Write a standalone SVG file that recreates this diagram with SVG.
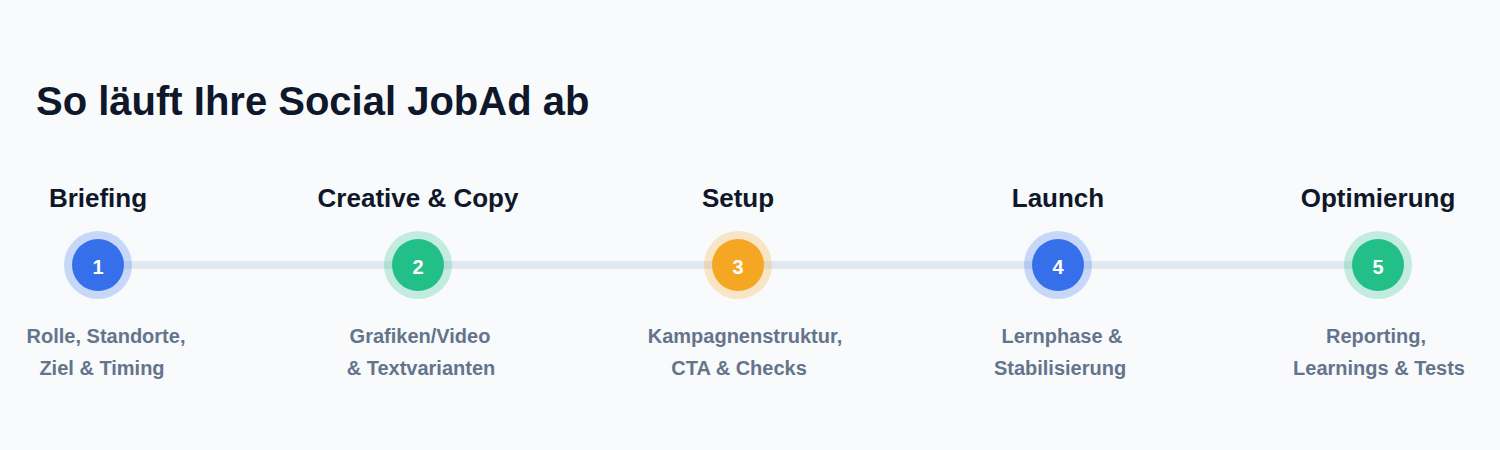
<svg xmlns="http://www.w3.org/2000/svg" width="1500" height="450" viewBox="0 0 1500 450">
  <style>
    .title { font-family: "Liberation Sans", Arial, sans-serif; font-weight: 700; font-size: 40px; fill: #0F172A; }
    .step { font-family: "Liberation Sans", Arial, sans-serif; font-weight: 700; font-size: 26px; fill: #0F172A; text-anchor: middle; }
    .desc { font-family: "Liberation Sans", Arial, sans-serif; font-weight: 700; font-size: 20px; fill: #64748B; text-anchor: middle; }
    .num { font-family: "Liberation Sans", Arial, sans-serif; font-weight: 700; font-size: 20px; fill: #FFFFFF; text-anchor: middle; }
    .blue { fill: #356FEA; }
    .green { fill: #22BF88; }
    .orange { fill: #F5A623; }
    .halo { opacity: 0.25; }
  </style>
  <rect width="1500" height="450" fill="#F8FAFC"/>
  <text class="title" x="36" y="115">So läuft Ihre Social JobAd ab</text>
  <g id="connectors">
    <line x1="98" y1="265" x2="1378" y2="265" stroke="#E2E8F0" stroke-width="8"/>
  </g>
  <g id="step1">
    <text class="step" x="98" y="207">Briefing</text>
    <circle class="blue halo" cx="98" cy="265" r="34"/>
    <circle class="blue" cx="98" cy="265" r="26"/>
    <text class="num" x="98" y="274">1</text>
    <text class="desc" x="106" y="343">Rolle, Standorte,</text>
    <text class="desc" x="102" y="375">Ziel &amp; Timing</text>
  </g>
  <g id="step2">
    <text class="step" x="418" y="207">Creative &amp; Copy</text>
    <circle class="green halo" cx="418" cy="265" r="34"/>
    <circle class="green" cx="418" cy="265" r="26"/>
    <text class="num" x="418" y="274">2</text>
    <text class="desc" x="420" y="343">Grafiken/Video</text>
    <text class="desc" x="421" y="375">&amp; Textvarianten</text>
  </g>
  <g id="step3">
    <text class="step" x="738" y="207">Setup</text>
    <circle class="orange halo" cx="738" cy="265" r="34"/>
    <circle class="orange" cx="738" cy="265" r="26"/>
    <text class="num" x="738" y="274">3</text>
    <text class="desc" x="745" y="343">Kampagnenstruktur,</text>
    <text class="desc" x="739" y="375">CTA &amp; Checks</text>
  </g>
  <g id="step4">
    <text class="step" x="1058" y="207">Launch</text>
    <circle class="blue halo" cx="1058" cy="265" r="34"/>
    <circle class="blue" cx="1058" cy="265" r="26"/>
    <text class="num" x="1058" y="274">4</text>
    <text class="desc" x="1062" y="343">Lernphase &amp;</text>
    <text class="desc" x="1060" y="375">Stabilisierung</text>
  </g>
  <g id="step5">
    <text class="step" x="1378" y="207">Optimierung</text>
    <circle class="green halo" cx="1378" cy="265" r="34"/>
    <circle class="green" cx="1378" cy="265" r="26"/>
    <text class="num" x="1378" y="274">5</text>
    <text class="desc" x="1376" y="343">Reporting,</text>
    <text class="desc" x="1379" y="375">Learnings &amp; Tests</text>
  </g>
</svg>
